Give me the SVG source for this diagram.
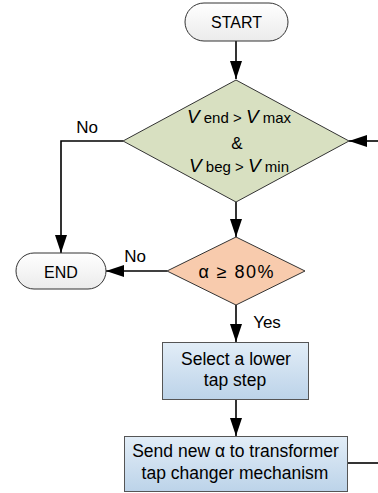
<svg xmlns="http://www.w3.org/2000/svg" width="378" height="493" viewBox="0 0 378 493">
<defs>
<linearGradient id="gTerm" x1="0" y1="0" x2="0" y2="1"><stop offset="0" stop-color="#ffffff"/><stop offset="1" stop-color="#ebebeb"/></linearGradient>
<linearGradient id="gBox" x1="0" y1="0" x2="0" y2="1"><stop offset="0" stop-color="#e2edf7"/><stop offset="1" stop-color="#bcd3e9"/></linearGradient>
<marker id="arr" viewBox="0 0 18 12" refX="18" refY="6" markerWidth="18" markerHeight="12" markerUnits="userSpaceOnUse" orient="auto"><path d="M0,0 L18,6 L0,12 z" fill="#000"/></marker>
</defs>
<style>
text{font-family:"Liberation Sans",Arial,sans-serif;font-size:17.5px;fill:#000;text-anchor:middle}
.term{fill:url(#gTerm);stroke:#333;stroke-width:1}
.box{fill:url(#gBox);stroke:#555;stroke-width:1}
.conn path{fill:none;stroke:#000;stroke-width:1.6}
.v{font-style:italic;font-size:19px}
.sub{font-size:15px}
</style>
<rect width="378" height="493" fill="#fff"/>
<g class="conn">
<path d="M236,41 L236,79" marker-end="url(#arr)"/>
<path d="M378,141 L349,141" marker-end="url(#arr)"/>
<path d="M123,141 L61,141 L61,253" marker-end="url(#arr)"/>
<path d="M236,202 L236,237" marker-end="url(#arr)"/>
<path d="M167,271 L106,271" marker-end="url(#arr)"/>
<path d="M236,305 L236,342" marker-end="url(#arr)"/>
<path d="M236,400 L236,436" marker-end="url(#arr)"/>
<path d="M347,463 L378,463"/>
</g>
<g id="start">
<rect class="term" x="185" y="3" width="103" height="38" rx="19" ry="19"/>
<text x="236.5" y="28" style="font-size:16px">START</text>
</g>
<g id="cond1">
<polygon points="236,80 349,141 236,202 123,141" fill="#d8e0c1" stroke="#333" stroke-width="1"/>
<text x="239" y="123"><tspan class="v">V</tspan><tspan class="sub"> end &gt; </tspan><tspan class="v">V</tspan><tspan class="sub"> max</tspan></text>
<text x="237" y="149" style="font-size:17px">&amp;</text>
<text x="239" y="172"><tspan class="v">V</tspan><tspan class="sub"> beg &gt; </tspan><tspan class="v">V</tspan><tspan class="sub"> min</tspan></text>
</g>
<text x="87" y="133" style="font-size:17px">No</text>
<g id="end">
<rect class="term" x="16" y="253" width="90" height="36" rx="18" ry="18"/>
<text x="61" y="277.5" style="font-size:16px">END</text>
</g>
<g id="cond2">
<polygon points="236,237 305,271 236,305 167,271" fill="#f8cbad" stroke="#333" stroke-width="1"/>
<text x="236" y="277.5" style="font-size:18px" textLength="75" lengthAdjust="spacing">α ≥ 80%</text>
</g>
<text x="135" y="262" style="font-size:17px">No</text>
<text x="267" y="328" style="font-size:17px">Yes</text>
<g id="select">
<rect class="box" x="162.5" y="342.5" width="146" height="57"/>
<text x="236" y="365">Select a lower</text>
<text x="235" y="386">tap step</text>
</g>
<g id="send">
<rect class="box" x="124.5" y="436.5" width="223" height="55"/>
<text x="235.5" y="457">Send new α to transformer</text>
<text x="235" y="479">tap changer mechanism</text>
</g>
</svg>
